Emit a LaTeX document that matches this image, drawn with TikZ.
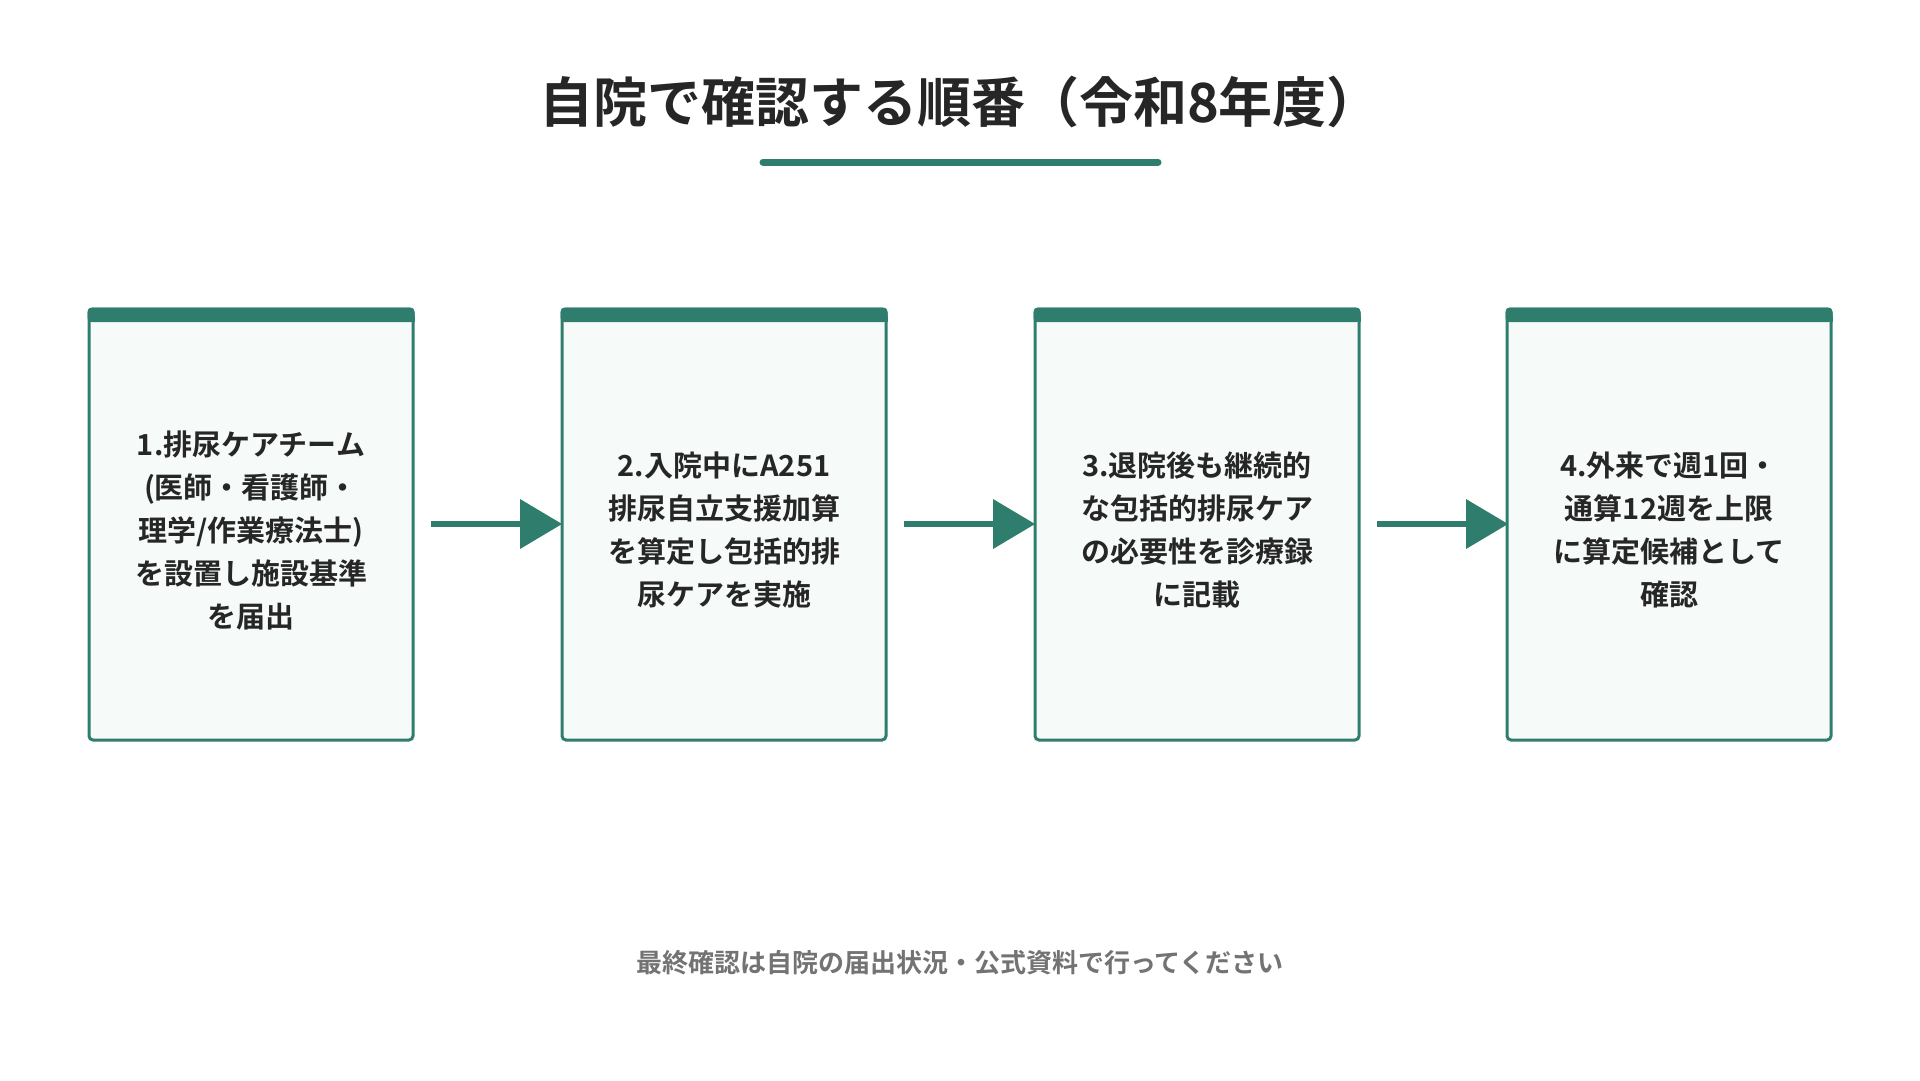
\documentclass[tikz,border=0pt]{standalone}
\usepackage{fontspec}
\setmainfont{Noto Sans CJK JP}[BoldFont={Noto Sans CJK JP Bold}]
\begin{document}
\definecolor{teal1}{HTML}{2F7D6D}
\definecolor{boxfill}{HTML}{F6FAF9}
\definecolor{txt}{HTML}{262626}
\begin{tikzpicture}[x=1pt,y=-1pt,
  box/.style={draw=teal1,line width=3pt,fill=boxfill,rounded corners=4pt},
  lbl/.style={align=center,text=txt,font=\fontsize{29}{43}\selectfont\bfseries},
  arr/.style={draw=teal1,line width=6pt},
  head/.style={fill=teal1}]
\useasboundingbox (0,0) rectangle (1920,1080);
\node[font=\fontsize{54}{60}\selectfont\bfseries,text=txt] (title) at (960,102) {自院で確認する順番（令和8年度）};
\draw[teal1,line width=7pt,line cap=round] (763,162) -- (1158,162);
\foreach \i/\x/\t in {1/89/{1.排尿ケアチーム\\(医師・看護師・\\理学/作業療法士)\\を設置し施設基準\\を届出},
  2/562/{2.入院中にA251\\排尿自立支援加算\\を算定し包括的排\\尿ケアを実施},
  3/1035/{3.退院後も継続的\\な包括的排尿ケア\\の必要性を診療録\\に記載},
  4/1507/{4.外来で週1回・\\通算12週を上限\\に算定候補として\\確認}}{
  \draw[box] (\x,309) rectangle (\x+324,740);
  \fill[teal1,rounded corners=4pt] (\x-1.5,307.5) rectangle (\x+325.5,322);
  \fill[teal1] (\x-1.5,316) rectangle (\x+325.5,322);
  \node[lbl] (b\i) at (\x+162,530) {\t};
}
\foreach \x in {431,904,1377}{
  \coordinate (s) at (\x,524);
  \coordinate (e) at (\x+131,524);
  \draw[arr] (s) -- (\x+92,524);
  \fill[teal1] (\x+89,499) -- (e) -- (\x+89,549) -- cycle;
}
\node[font=\fontsize{26}{30}\selectfont\bfseries,text=black!55] (foot) at (960,963) {最終確認は自院の届出状況・公式資料で行ってください};
\end{tikzpicture}
\end{document}
